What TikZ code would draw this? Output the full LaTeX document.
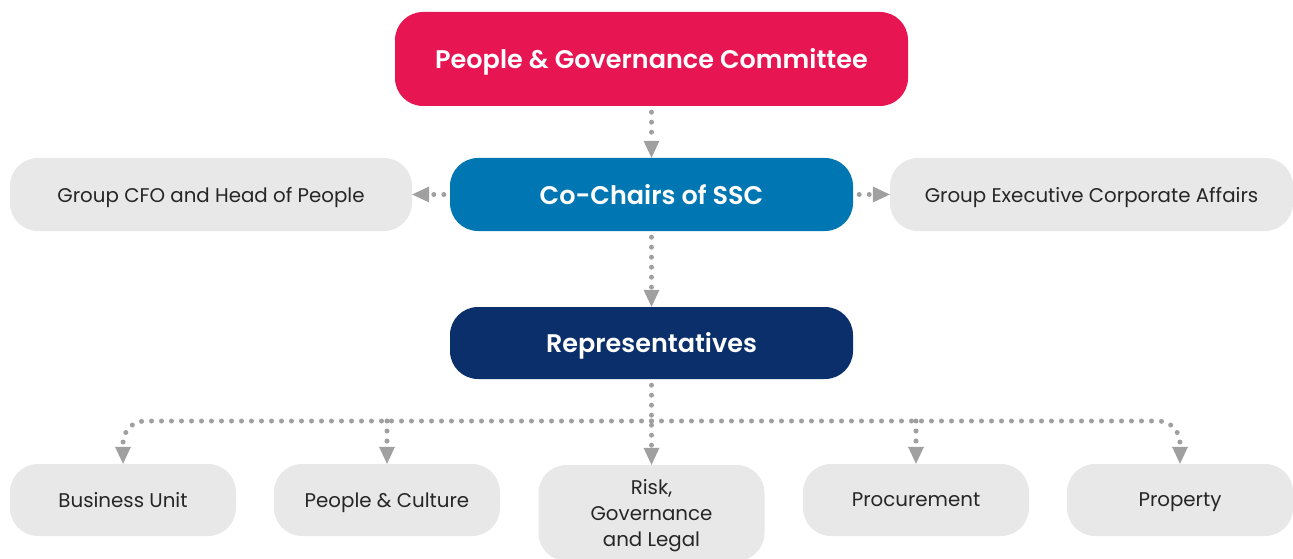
\documentclass[tikz,border=0pt]{standalone}
\usepackage{fontspec}
\setmainfont{Poppins}[BoldFont={* SemiBold}]
\usetikzlibrary{positioning,arrows.meta}
\definecolor{pgcred}{RGB}{232,21,83}
\definecolor{sscblue}{RGB}{0,119,179}
\definecolor{repnavy}{RGB}{11,47,107}
\definecolor{boxgrey}{RGB}{232,232,232}
\definecolor{linegrey}{RGB}{160,160,160}

\begin{document}
\begin{tikzpicture}[x=1pt,y=-1pt,
  every node/.append style={rounded corners=28pt, align=center, inner sep=0pt},
  headbox/.style={minimum width=403pt, minimum height=73pt, text=white, text depth=0pt,
    font=\fontsize{25.5}{30}\selectfont\bfseries},
  greybox/.style={fill=boxgrey, text=black!85, minimum width=226pt, minimum height=72pt,
    text depth=0pt, font=\fontsize{19.8}{26}\selectfont},
  conn/.style={draw=linegrey, line width=5pt, line cap=round, dash pattern=on 0pt off 10pt,
    shorten <=6pt, -{Triangle[length=17pt,width=16pt,line width=0pt]}}]
  \useasboundingbox (0,0) rectangle (1293,559);
  % top of the chart
  \node[headbox, fill=pgcred, minimum width=513pt, minimum height=94pt] (pgc) at (651.5,59) {People \& Governance Committee};
  \node[headbox, fill=sscblue] (ssc) at (651.5,194.5) {Co-Chairs of SSC};
  \node[greybox, minimum width=402pt, minimum height=73pt] (cfo) at (211,194.5) {Group CFO and Head of People};
  \node[greybox, minimum width=403pt, minimum height=73pt] (gec) at (1091.5,194.5) {Group Executive Corporate Affairs};
  \node[headbox, fill=repnavy, minimum height=72pt] (reps) at (651.5,343) {Representatives};
  % bottom row
  \node[greybox] (bu) at (123,500) {Business Unit};
  \node[greybox] (pc) at (387,500) {People \& Culture};
  \node[greybox, minimum height=96pt] (rgl) at (651.5,513) {Risk,\\Governance\\and Legal};
  \node[greybox] (proc) at (916,500) {Procurement};
  \node[greybox] (prop) at (1180,500) {Property};
  \coordinate (bus) at (651.5,421);
  \draw[conn] (pgc) -- (ssc);
  \draw[conn] (ssc) -- (cfo);
  \draw[conn] (ssc) -- (gec);
  \draw[conn] (ssc) -- (reps);
  \draw[conn] (reps) -- (rgl);
  \draw[conn, shorten <=0pt, rounded corners=22pt] (bus) -| (bu.north);
  \draw[conn, shorten <=0pt, rounded corners=22pt] (bus) -| (prop.north);
  \draw[conn, shorten <=0pt] (pc.north |- bus) -- (pc.north);
  \draw[conn, shorten <=0pt] (proc.north |- bus) -- (proc.north);
\end{tikzpicture}
\end{document}
